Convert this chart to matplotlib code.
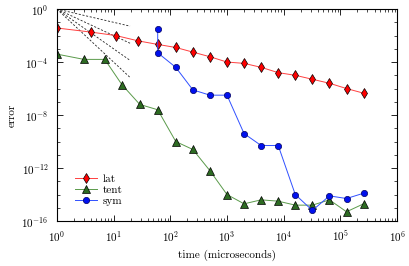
import numpy as np
import matplotlib
matplotlib.use("Agg")
import matplotlib.pyplot as plt
from matplotlib.ticker import LogLocator, FixedLocator, NullFormatter

plt.rcParams["font.family"] = "serif"
plt.rcParams["font.serif"] = ["cmr10", "DejaVu Serif"]
plt.rcParams["mathtext.fontset"] = "cm"
plt.rcParams["axes.formatter.use_mathtext"] = True

# data (time in microseconds, log10 of error)
lat_t = [1, 4, 11, 27, 60, 125, 250, 500, 1000, 2000, 4000, 8000,
         16000, 32000, 64000, 128000, 256000]
lat_logerr = [-1.43, -1.74, -2.0, -2.4, -2.67, -2.9, -3.25, -3.6, -4.0,
              -4.1, -4.4, -4.8, -5.0, -5.3, -5.6, -6.0, -6.35]

tent_t = [1, 3, 7, 14, 29, 60, 125, 250, 500, 1000, 2000, 4000, 8000,
          16000, 32000, 64000, 128000, 256000]
tent_logerr = [-3.4, -3.8, -3.8, -5.7, -7.2, -7.6, -10.0, -10.6, -12.2,
               -14.0, -14.7, -14.4, -14.5, -14.8, -14.8, -14.4, -15.3, -14.7]

sym_t = [60, 60, 125, 250, 500, 1000, 2000, 4000, 8000, 16000, 32000,
         64000, 128000, 256000]
sym_logerr = [-1.5, -3.3, -4.4, -6.1, -6.5, -6.5, -9.4, -10.3, -10.3,
              -14.0, -15.2, -14.1, -14.3, -13.9]

# reference slopes (order lines)
ref_orders = [1, 2, 3, 4]
ref_t = [1, 19.5]

fig = plt.figure(figsize=(4.09, 2.66), dpi=100)
ax = fig.add_axes([0.139, 0.169, 0.832, 0.797])

for p in ref_orders:
    ax.plot(ref_t, [1.0, ref_t[1] ** (-p)], color="#222222", ls="--",
            lw=0.6, dashes=(2.5, 2))

ax.plot(lat_t, 10.0 ** np.array(lat_logerr), color="#ff4040", lw=0.7,
        marker="d", ms=5.5, mfc="red", mec="black", mew=0.5, label="lat")
ax.plot(tent_t, 10.0 ** np.array(tent_logerr), color="#5a9a4a", lw=0.7,
        marker="^", ms=5.5, mfc="#2d6b22", mec="black", mew=0.5, label="tent")
ax.plot(sym_t, 10.0 ** np.array(sym_logerr), color="#3050ff", lw=0.7,
        marker="o", ms=4.5, mfc="#0010ee", mec="#000060", mew=0.5, label="sym")

ax.set_xscale("log")
ax.set_yscale("log")
ax.set_xlim(1, 1e6)
ax.set_ylim(1e-16, 1)

ax.xaxis.set_major_locator(LogLocator(base=10, numticks=10))
ax.xaxis.set_minor_locator(LogLocator(base=10, subs=np.arange(2, 10), numticks=20))
ax.xaxis.set_minor_formatter(NullFormatter())
ax.yaxis.set_major_locator(FixedLocator([1e-16, 1e-12, 1e-8, 1e-4, 1]))
ax.yaxis.set_minor_locator(FixedLocator([10.0 ** k for k in range(-16, 1)]))
ax.yaxis.set_minor_formatter(NullFormatter())

ax.tick_params(which="both", direction="in", top=True, right=True,
               labelsize=8, pad=6)
ax.tick_params(which="major", length=4, width=0.6)
ax.tick_params(which="minor", length=2, width=0.5)
for s in ax.spines.values():
    s.set_linewidth(0.8)

ax.set_xlabel("time (microseconds)", fontsize=8)
ax.set_ylabel("error", fontsize=8, labelpad=3)

ax.legend(loc="lower left", bbox_to_anchor=(0.04, 0.05), frameon=False,
          fontsize=8, handlelength=2.0, handletextpad=0.5, labelspacing=0.1,
          borderaxespad=0)

fig.savefig("out.png", dpi=100)
